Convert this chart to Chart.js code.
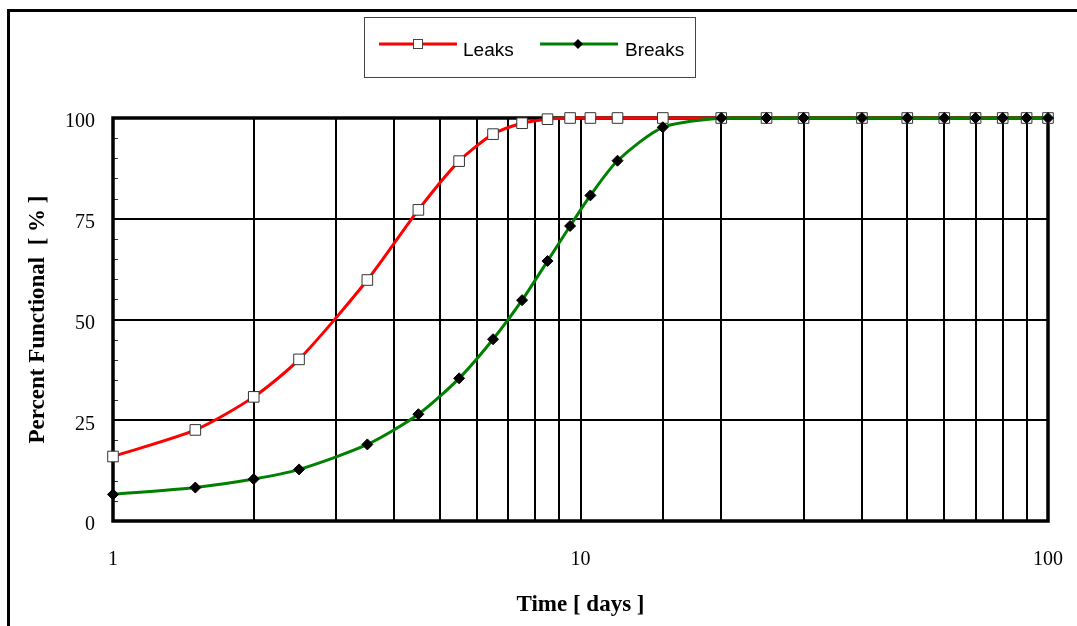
<!DOCTYPE html>
<html>
<head>
<meta charset="utf-8">
<script src="https://cdn.jsdelivr.net/npm/chart.js@4/dist/chart.umd.min.js"></script>
<style>
  html, body { margin: 0; padding: 0; background: #ffffff; }
  #wrap { width: 1077px; height: 626px; position: relative; }
</style>
</head>
<body>
<div id="wrap"><canvas id="c" width="1077" height="626"></canvas></div>
<script>
// ---- data ----
const days = [1, 1.5, 2, 2.5, 3.5, 4.5, 5.5, 6.5, 7.5, 8.5, 9.5, 10.5, 12, 15, 20, 25, 30, 40, 50, 60, 70, 80, 90, 100];
const leaks = [16.0, 22.6, 30.8, 40.1, 59.8, 77.2, 89.3, 96.0, 98.7, 99.7, 100, 100, 100, 100, 100, 100, 100, 100, 100, 100, 100, 100, 100, 100];
const breaks = [6.6, 8.3, 10.4, 12.8, 19.0, 26.5, 35.4, 45.1, 54.8, 64.5, 73.2, 80.8, 89.4, 97.7, 100, 100, 100, 100, 100, 100, 100, 100, 100, 100];
const xTickLabels = [1, 10, 100];
const yTickLabels = [0, 25, 50, 75, 100];
const seriesNames = ['Leaks', 'Breaks'];
const xTitle = 'Time [ days ]';
const yTitle = 'Percent Functional  [ % ]';

const serif = '"Liberation Serif", "Times New Roman", serif';
const sans = '"Liberation Sans", Arial, sans-serif';

const framePlugin = {
  id: 'framePlugin',
  beforeDraw(chart) {
    const ctx = chart.ctx;
    ctx.save();
    ctx.strokeStyle = '#000';
    ctx.lineWidth = 3;
    ctx.strokeRect(8.5, 10.5, 2000, 2000);
    ctx.restore();
  },
  beforeDatasetsDraw(chart) {
    const ctx = chart.ctx;
    const a = chart.chartArea;
    const y = chart.scales.y;
    ctx.save();
    // minor ticks on the y axis, every 5 units, drawn inside
    ctx.strokeStyle = '#333';
    ctx.lineWidth = 1;
    for (let v = 0; v <= 100; v += 5) {
      if (v % 25 === 0) continue;
      const py = Math.round(y.getPixelForValue(v)) + 0.5;
      ctx.beginPath();
      ctx.moveTo(a.left, py);
      ctx.lineTo(a.left + 5, py);
      ctx.stroke();
    }
    // plot border
    ctx.strokeStyle = '#000';
    ctx.lineWidth = 3.5;
    ctx.strokeRect(a.left, a.top, a.right - a.left, a.bottom - a.top);
    ctx.restore();
  },
  afterDraw(chart) {
    const ctx = chart.ctx;
    ctx.save();
    // legend box
    ctx.fillStyle = '#fff';
    ctx.fillRect(364.5, 17.5, 331, 60);
    ctx.strokeStyle = '#444';
    ctx.lineWidth = 1;
    ctx.strokeRect(364.5, 17.5, 331, 60);
    const items = [
      { x0: 379, x1: 457, mx: 418, tx: 463 },
      { x0: 540, x1: 618, mx: 578, tx: 625 }
    ];
    const ly = 44;
    chart.data.datasets.forEach((ds) => {
      const idx = seriesNames.indexOf(ds.label);
      const it = items[idx];
      ctx.strokeStyle = ds.borderColor;
      ctx.lineWidth = 3;
      ctx.beginPath();
      ctx.moveTo(it.x0, ly);
      ctx.lineTo(it.x1, ly);
      ctx.stroke();
      if (ds.pointStyle === 'rect') {
        ctx.fillStyle = '#fff';
        ctx.fillRect(it.mx - 4.5, ly - 4.5, 9, 9);
        ctx.strokeStyle = '#444';
        ctx.lineWidth = 1;
        ctx.strokeRect(it.mx - 4.5, ly - 4.5, 9, 9);
      } else {
        ctx.fillStyle = '#000';
        ctx.beginPath();
        ctx.moveTo(it.mx, ly - 5);
        ctx.lineTo(it.mx + 5, ly);
        ctx.lineTo(it.mx, ly + 5);
        ctx.lineTo(it.mx - 5, ly);
        ctx.closePath();
        ctx.fill();
      }
      ctx.fillStyle = '#000';
      ctx.font = '19px ' + sans;
      ctx.textAlign = 'left';
      ctx.textBaseline = 'alphabetic';
      ctx.fillText(ds.label, it.tx, 56);
    });
    ctx.restore();
  }
};

const chart = new Chart(document.getElementById('c'), {
  type: 'line',
  data: {
    datasets: [
      {
        label: seriesNames[0],
        data: days.map((d, i) => ({ x: d, y: leaks[i] })),
        borderColor: '#ff0000',
        borderWidth: 3,
        tension: 0.25,
        pointStyle: 'rect',
        pointRadius: 7.5,
        pointBackgroundColor: '#ffffff',
        pointBorderColor: '#333333',
        pointBorderWidth: 1,
        clip: false,
        order: 1
      },
      {
        label: seriesNames[1],
        data: days.map((d, i) => ({ x: d, y: breaks[i] })),
        borderColor: '#008000',
        borderWidth: 3,
        tension: 0.25,
        pointStyle: 'rectRot',
        pointRadius: 5.5,
        pointBackgroundColor: '#000000',
        pointBorderColor: '#000000',
        pointBorderWidth: 1,
        clip: false,
        order: 0
      }
    ]
  },
  options: {
    responsive: false,
    devicePixelRatio: 1,
    animation: false,
    events: [],
    layout: { padding: { left: 0, top: 118, right: 29, bottom: 0 } },
    plugins: {
      legend: { display: false },
      tooltip: { enabled: false },
      title: { display: false }
    },
    scales: {
      x: {
        type: 'logarithmic',
        min: 1,
        max: 100,
        afterFit(scale) { scale.height = 105; scale.paddingLeft = 0; scale.paddingRight = 0; },
        border: { display: false },
        grid: { color: '#000', lineWidth: 2, drawTicks: false },
        ticks: {
          autoSkip: false,
          maxRotation: 0,
          padding: 27,
          color: '#000',
          font: { family: serif, size: 20 },
          callback(value) { return xTickLabels.includes(value) ? String(value) : ''; }
        },
        title: {
          display: true,
          text: xTitle,
          color: '#000',
          font: { family: serif, size: 23, weight: 'bold' },
          padding: { top: 0, bottom: 7 }
        }
      },
      y: {
        min: 0,
        max: 100,
        afterFit(scale) { scale.width = 113; scale.paddingTop = 0; scale.paddingBottom = 0; },
        border: { display: false },
        grid: { color: '#000', lineWidth: 2, drawTicks: false },
        ticks: {
          stepSize: 25,
          padding: 18,
          labelOffset: 4,
          color: '#000',
          font: { family: serif, size: 20 },
          callback(value) { return yTickLabels.includes(value) ? String(value) : ''; }
        },
        title: {
          display: true,
          text: yTitle,
          color: '#000',
          font: { family: serif, size: 23, weight: 'bold' },
          padding: { top: 24, bottom: 0 }
        }
      }
    }
  },
  plugins: [framePlugin]
});
</script>
</body>
</html>
